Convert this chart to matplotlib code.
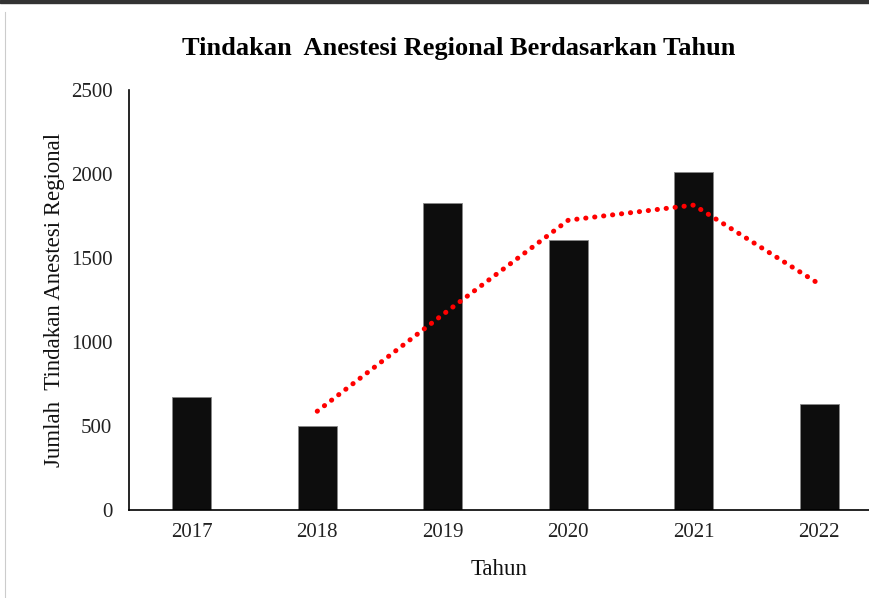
import matplotlib
matplotlib.use("Agg")
import matplotlib.pyplot as plt

# data
tahun = ["2017", "2018", "2019", "2020", "2021", "2022"]
jumlah = [673, 500, 1828, 1607, 2012, 632]
# moving-average trend line (dotted red), starts at 2018
tren_idx = [1, 2, 3, 4, 5]
tren = [588, 1163, 1725, 1815, 1345]

plt.rcParams['font.family'] = ['Liberation Serif', 'DejaVu Serif']

fig = plt.figure(figsize=(8.7, 5.98), dpi=100)
ax = fig.add_axes([129 / 870, 1 - 510 / 598, (870 - 129) / 870, 420 / 598])

x = list(range(len(tahun)))
ax.bar(x, jumlah, width=0.31, color="#0d0d0d", edgecolor="#888888", linewidth=0.6, zorder=2)
ax.plot(tren_idx, tren, color="#ff0000", linewidth=3.6,
        linestyle=(0, (0.05, 1.75)), dash_capstyle="round", zorder=3)

ax.set_xlim(-0.5, 5.5 - 12 / 125.5)
ax.set_ylim(0, 2500)
ax.set_yticks([0, 500, 1000, 1500, 2000, 2500])
ax.set_xticks(x)
ax.set_xticklabels(tahun)
ax.tick_params(axis="both", length=0, labelsize=15, colors="#222222")
ax.tick_params(axis="x", pad=9.5)
ax.tick_params(axis="y", pad=12)

for s in ["top", "right"]:
    ax.spines[s].set_visible(False)
ax.spines["left"].set_linewidth(1.2)
ax.spines["bottom"].set_linewidth(1.2)

ax.set_xlabel("Tahun", fontsize=16.5, labelpad=12, color="#111111")
ax.set_ylabel("Jumlah  Tindakan Anestesi Regional", fontsize=16.5, labelpad=4, color="#111111")

fig.text(459 / 870, 1 - 48 / 598, "Tindakan  Anestesi Regional Berdasarkan Tahun",
         ha="center", va="center", fontsize=19, fontweight="bold")

# frame remnants from the screenshot
fig.patches.append(plt.Rectangle((0, 1 - 3 / 598), 1, 3 / 598, transform=fig.transFigure,
                                 color="#333333", zorder=0))
fig.lines.append(plt.Line2D([5 / 870, 5 / 870], [0, 1 - 12 / 598], transform=fig.transFigure,
                            color="#cccccc", linewidth=0.8))

fig.savefig("out.png", dpi=100)
